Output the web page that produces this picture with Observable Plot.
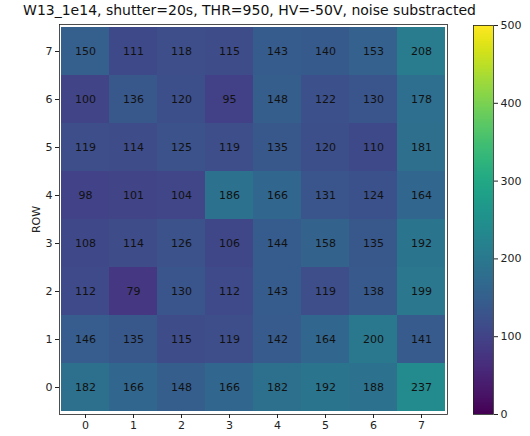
<!DOCTYPE html>
<html>
<head>
<meta charset="utf-8">
<script src="https://cdn.jsdelivr.net/npm/d3@7"></script>
<script src="https://cdn.jsdelivr.net/npm/@observablehq/plot@0.6"></script>
<style>
  html, body { margin: 0; padding: 0; background: #fff; }
  #wrap { position: relative; width: 530px; height: 436px; font-family: "DejaVu Sans", sans-serif; }
  #title { position: absolute; left: 0; top: 2px; width: 499px; text-align: center; font-size: 14px; color: #111; white-space: nowrap; }
  #main, #cbar { position: absolute; left: 0; top: 0; }
</style>
</head>
<body>
<div id="wrap">
  <div id="main"></div>
  <div id="cbar"></div>
  <div id="title"></div>
</div>
<script>
const titleText = "W13_1e14, shutter=20s, THR=950, HV=-50V, noise substracted";
const colLabels = [0, 1, 2, 3, 4, 5, 6, 7];
const rowLabels = [7, 6, 5, 4, 3, 2, 1, 0]; // top to bottom
const row7 = [150, 111, 118, 115, 143, 140, 153, 208];
const row6 = [100, 136, 120, 95, 148, 122, 130, 178];
const row5 = [119, 114, 125, 119, 135, 120, 110, 181];
const row4 = [98, 101, 104, 186, 166, 131, 124, 164];
const row3 = [108, 114, 126, 106, 144, 158, 135, 192];
const row2 = [112, 79, 130, 112, 143, 119, 138, 199];
const row1 = [146, 135, 115, 119, 142, 164, 200, 141];
const row0 = [182, 166, 148, 166, 182, 192, 188, 237];
const colorDomain = [0, 500];
const colorTicks = [0, 100, 200, 300, 400, 500];

const rowsData = {7: row7, 6: row6, 5: row5, 4: row4, 3: row3, 2: row2, 1: row1, 0: row0};
const cells = [];
for (const r of rowLabels) {
  rowsData[r].forEach((v, c) => cells.push({col: colLabels[c], row: r, value: v}));
}

document.getElementById("title").textContent = titleText;

const main = Plot.plot({
  width: 530,
  height: 436,
  marginLeft: 59,
  marginRight: 83,
  marginTop: 24,
  marginBottom: 22,
  style: {fontFamily: "DejaVu Sans, sans-serif", fontSize: "11px", color: "#222", background: "transparent"},
  x: {type: "band", domain: colLabels, padding: 0, label: null, tickSize: 4, tickPadding: 3},
  y: {type: "band", domain: rowLabels, padding: 0, label: "ROW", labelAnchor: "center", labelOffset: 27, tickSize: 4, tickPadding: 3},
  color: {type: "linear", scheme: "viridis", domain: colorDomain},
  marks: [
    Plot.cell(cells, {x: "col", y: "row", fill: "value", inset: 0}),
    Plot.text(cells, {x: "col", y: "row", text: d => String(d.value), fill: "#111", fontSize: 11}),
    Plot.frame({stroke: "#222", strokeWidth: 0.8})
  ]
});
document.getElementById("main").appendChild(main);

const slices = d3.range(colorDomain[0], colorDomain[1], 1).map(v => ({v0: v, v1: v + 1}));
const cbar = Plot.plot({
  width: 530,
  height: 436,
  marginLeft: 473,
  marginRight: 37,
  marginTop: 25,
  marginBottom: 22,
  style: {fontFamily: "DejaVu Sans, sans-serif", fontSize: "11px", color: "#222", background: "transparent"},
  x: {domain: [0, 1], axis: null},
  y: {domain: colorDomain, ticks: colorTicks, axis: "right", label: null, tickSize: 4, tickPadding: 3},
  color: {type: "linear", scheme: "viridis", domain: colorDomain},
  marks: [
    Plot.rect(slices, {x1: 0, x2: 1, y1: "v0", y2: "v1", fill: d => d.v0 + 0.5, shapeRendering: "crispEdges"}),
    Plot.frame({stroke: "#222", strokeWidth: 0.8})
  ]
});
document.getElementById("cbar").appendChild(cbar);
</script>
</body>
</html>
